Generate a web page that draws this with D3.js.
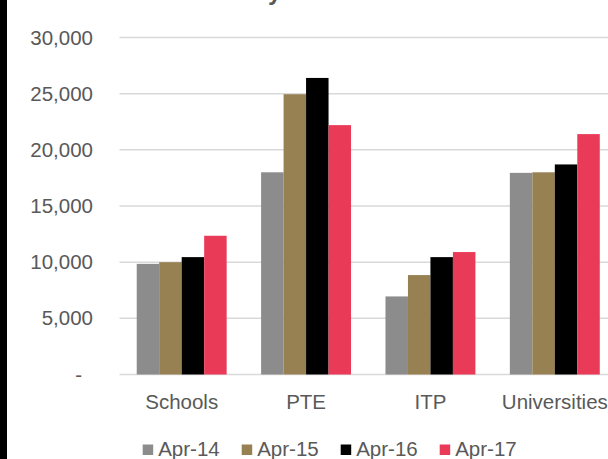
<!DOCTYPE html>
<html>
<head>
<meta charset="utf-8">
<script src="https://cdn.jsdelivr.net/npm/d3@7"></script>
<style>
  html, body { margin: 0; padding: 0; background: #fff; }
  svg { display: block; font-family: "Liberation Sans", Arial, sans-serif; }
</style>
</head>
<body>
<svg id="chart"></svg>
<script>
const categories = ['Schools', 'PTE', 'ITP', 'Universities'];
const seriesNames = ['Apr-14', 'Apr-15', 'Apr-16', 'Apr-17'];
const apr14 = [9850, 18000, 6950, 17950];
const apr15 = [10000, 24950, 8850, 18000];
const apr16 = [10450, 26400, 10450, 18700];
const apr17 = [12350, 22200, 10900, 21400];
const yTicks = [0, 5000, 10000, 15000, 20000, 25000, 30000];
const colors = ['#8c8c8c', '#978052', '#000000', '#e93a58'];

const values = [apr14, apr15, apr16, apr17];
const W = 608, H = 459;
const svg = d3.select('#chart').attr('width', W).attr('height', H);

// dark strip on the left edge
svg.append('rect').attr('x', 0).attr('y', 0).attr('width', 7).attr('height', H).attr('fill', '#000');

// title, mostly cut off at the top
const title = svg.append('text')
	.attr('y', 0)
	.attr('font-size', 24)
	.attr('font-weight', 'bold')
	.attr('fill', '#595959')
	.text('Enrolments by sector');
const yIdx = title.text().indexOf('y');
const yPos = title.node().getStartPositionOfChar(yIdx).x;
title.attr('x', 268 - yPos);

const plotLeft = 119.5, plotRight = 617;
const x = d3.scaleBand().domain(categories).range([plotLeft, plotRight])
	.paddingInner(0.277).paddingOuter(0.1385);
const xs = d3.scaleBand().domain(seriesNames).range([0, x.bandwidth()]);
const y = d3.scaleLinear().domain([0, 30000]).range([374.5, 37.5]);

// gridlines
svg.append('g').selectAll('line').data(yTicks).join('line')
	.attr('x1', plotLeft).attr('x2', W)
	.attr('y1', d => y(d)).attr('y2', d => y(d))
	.attr('stroke', '#d9d9d9').attr('stroke-width', 1.5);

// y axis labels
const yAxis = svg.append('g').attr('transform', 'translate(93,0)')
	.call(d3.axisLeft(y).tickValues(yTicks).tickSize(0).tickPadding(0)
		.tickFormat(d => d === 0 ? '-' : d3.format(',')(d)));
yAxis.select('.domain').remove();
yAxis.selectAll('text').attr('font-size', 20.5).attr('fill', '#595959')
	.attr('font-family', '"Liberation Sans", Arial, sans-serif')
	.attr('dx', d => d === 0 ? -11 : 0);

// bars
const groups = svg.append('g').selectAll('g').data(categories).join('g')
	.attr('transform', d => `translate(${x(d)},0)`);
groups.selectAll('rect')
	.data((c, i) => seriesNames.map((s, j) => ({ s, j, v: values[j][i] })))
	.join('rect')
	.attr('x', d => xs(d.s))
	.attr('width', xs.bandwidth())
	.attr('y', d => y(d.v))
	.attr('height', d => y(0) - y(d.v))
	.attr('fill', d => colors[d.j]);

// x axis labels
const xAxis = svg.append('g').attr('transform', `translate(0,${y(0)})`)
	.call(d3.axisBottom(x).tickSize(0).tickPadding(0));
xAxis.select('.domain').remove();
xAxis.selectAll('text').attr('font-size', 20.5).attr('fill', '#595959')
	.attr('font-family', '"Liberation Sans", Arial, sans-serif')
	.attr('dy', null).attr('y', 34);

// legend
const legend = svg.append('g').selectAll('g').data(seriesNames).join('g')
	.attr('transform', (d, i) => `translate(${142.7 + i * 99},0)`);
legend.append('rect').attr('x', 0).attr('y', 444.5).attr('width', 10.5).attr('height', 10.5)
	.attr('fill', (d, i) => colors[i]);
legend.append('text').attr('x', 15.5).attr('y', 456)
	.attr('font-size', 20.5).attr('fill', '#595959')
	.text(d => d);
</script>
</body>
</html>
